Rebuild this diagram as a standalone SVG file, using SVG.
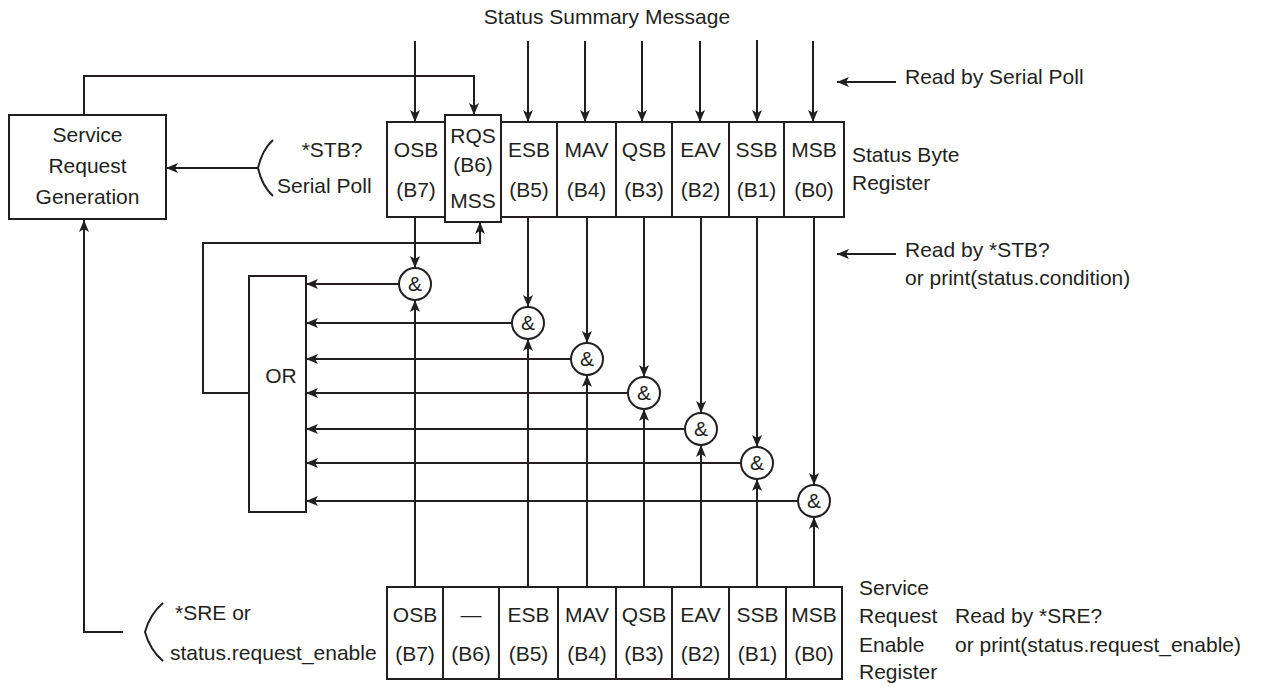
<svg xmlns="http://www.w3.org/2000/svg" width="1267" height="687" viewBox="0 0 1267 687">
<style>
  text{font-family:"Liberation Sans",Arial,sans-serif;font-size:21px;fill:#231f20}
  .m{text-anchor:middle}
  .box{fill:#fff;stroke:#231f20;stroke-width:2}
  .ln{fill:none;stroke:#231f20;stroke-width:2}
  .ar{fill:none;stroke:#231f20;stroke-width:2;marker-end:url(#ah)}
</style>
<defs>
  <marker id="ah" viewBox="0 0 12 10" refX="12" refY="5" markerWidth="12" markerHeight="10" markerUnits="userSpaceOnUse" orient="auto">
    <path d="M0,0 L12,5 L0,10 L3,5 z" fill="#231f20"/>
  </marker>
</defs>
<rect width="1267" height="687" fill="#fff"/>

<text class="m" x="607" y="24">Status Summary Message</text>

<g id="connectors">
  <!-- inputs from top -->
  <path class="ar" d="M415,41 V122"/>
  <path class="ar" d="M528,41 V122"/>
  <path class="ar" d="M585,41 V122"/>
  <path class="ar" d="M642,41 V122"/>
  <path class="ar" d="M700,41 V122"/>
  <path class="ar" d="M757,40 V122"/>
  <path class="ar" d="M813,41 V122"/>
  <!-- SRG to RQS -->
  <path class="ar" d="M84,115 V76 H474 V115"/>
  <!-- bracket STB -->
  <path class="ln" d="M273,140 Q262,150 258,168 Q262,186 273,196"/>
  <path class="ar" d="M258,168 H166"/>
  <!-- SRE into SRG -->
  <path class="ar" d="M123,632 H84 V220"/>
  <path class="ln" d="M163,603 Q150,614 145,632 Q150,650 163,661"/>
  <!-- feedback OR to MSS -->
  <path class="ar" d="M249,393 H203 V243 H480 V222"/>
  <!-- status byte outputs down to & -->
  <path class="ar" d="M415,217 V268"/>
  <path class="ar" d="M528,217 V307"/>
  <path class="ar" d="M587,217 V343"/>
  <path class="ar" d="M644,217 V377"/>
  <path class="ar" d="M701,217 V413"/>
  <path class="ar" d="M757,217 V447"/>
  <path class="ar" d="M814,217 V485"/>
  <!-- enable inputs up to & -->
  <path class="ar" d="M415,587 V300"/>
  <path class="ar" d="M528,587 V339"/>
  <path class="ar" d="M587,587 V375"/>
  <path class="ar" d="M644,587 V409"/>
  <path class="ar" d="M701,587 V445"/>
  <path class="ar" d="M757,587 V479"/>
  <path class="ar" d="M814,587 V517"/>
  <!-- & outputs to OR -->
  <path class="ar" d="M399,284 H306"/>
  <path class="ar" d="M512,323 H306"/>
  <path class="ar" d="M571,359 H306"/>
  <path class="ar" d="M628,393 H306"/>
  <path class="ar" d="M685,429 H306"/>
  <path class="ar" d="M741,463 H306"/>
  <path class="ar" d="M798,501 H306"/>
  <!-- read arrows -->
  <path class="ar" d="M896,82 H837"/>
  <path class="ar" d="M896,254 H837"/>
</g>

<g id="srg">
  <rect class="box" x="9" y="115" width="157" height="104"/>
  <text class="m" x="87.5" y="142">Service</text>
  <text class="m" x="87.5" y="173">Request</text>
  <text class="m" x="87.5" y="204">Generation</text>
</g>

<g id="stb-label">
  <text class="m" x="332" y="157">*STB?</text>
  <text x="277" y="193">Serial Poll</text>
</g>

<g id="status-byte-register">
  <rect class="box" x="387" y="122" width="457" height="95"/>
  <path class="ln" d="M445,122 V217 M557,122 V217 M616,122 V217 M672,122 V217 M729,122 V217 M784,122 V217"/>
  <rect class="box" x="445" y="115" width="56" height="107"/>
  <text class="m" x="416" y="157">OSB</text><text class="m" x="416" y="197">(B7)</text>
  <text class="m" x="473" y="143">RQS</text><text class="m" x="473" y="172">(B6)</text><text class="m" x="473" y="208">MSS</text>
  <text class="m" x="529" y="157">ESB</text><text class="m" x="529" y="197">(B5)</text>
  <text class="m" x="586.5" y="157">MAV</text><text class="m" x="586.5" y="197">(B4)</text>
  <text class="m" x="644" y="157">QSB</text><text class="m" x="644" y="197">(B3)</text>
  <text class="m" x="700.5" y="157">EAV</text><text class="m" x="700.5" y="197">(B2)</text>
  <text class="m" x="756.5" y="157">SSB</text><text class="m" x="756.5" y="197">(B1)</text>
  <text class="m" x="814" y="157">MSB</text><text class="m" x="814" y="197">(B0)</text>
  <text x="852" y="162">Status Byte</text>
  <text x="852" y="190">Register</text>
</g>

<g id="read-serial-poll"><text x="905" y="84">Read by Serial Poll</text></g>
<g id="read-stb">
  <text x="905" y="257">Read by *STB?</text>
  <text x="905" y="285">or print(status.condition)</text>
</g>

<g id="or-gate">
  <rect class="box" x="249" y="276" width="57" height="236"/>
  <text class="m" x="281" y="383">OR</text>
</g>

<g id="and-gates">
  <g id="and7"><circle class="box" cx="415" cy="284" r="16"/><text class="m" x="415" y="291">&amp;</text></g>
  <g id="and5"><circle class="box" cx="528" cy="323" r="16"/><text class="m" x="528" y="330">&amp;</text></g>
  <g id="and4"><circle class="box" cx="587" cy="359" r="16"/><text class="m" x="587" y="366">&amp;</text></g>
  <g id="and3"><circle class="box" cx="644" cy="393" r="16"/><text class="m" x="644" y="400">&amp;</text></g>
  <g id="and2"><circle class="box" cx="701" cy="429" r="16"/><text class="m" x="701" y="436">&amp;</text></g>
  <g id="and1"><circle class="box" cx="757" cy="463" r="16"/><text class="m" x="757" y="470">&amp;</text></g>
  <g id="and0"><circle class="box" cx="814" cy="501" r="16"/><text class="m" x="814" y="508">&amp;</text></g>
</g>

<g id="sre-label">
  <text x="175" y="620">*SRE or</text>
  <text x="170" y="660">status.request_enable</text>
</g>

<g id="service-request-enable-register">
  <rect class="box" x="387" y="587" width="455" height="92"/>
  <path class="ln" d="M443,587 V679 M499,587 V679 M558,587 V679 M616,587 V679 M672,587 V679 M729,587 V679 M786,587 V679"/>
  <text class="m" x="415" y="622">OSB</text><text class="m" x="415" y="661">(B7)</text>
  <text class="m" x="471" y="622">—</text><text class="m" x="471" y="661">(B6)</text>
  <text class="m" x="528.5" y="622">ESB</text><text class="m" x="528.5" y="661">(B5)</text>
  <text class="m" x="587" y="622">MAV</text><text class="m" x="587" y="661">(B4)</text>
  <text class="m" x="644" y="622">QSB</text><text class="m" x="644" y="661">(B3)</text>
  <text class="m" x="700.5" y="622">EAV</text><text class="m" x="700.5" y="661">(B2)</text>
  <text class="m" x="757.5" y="622">SSB</text><text class="m" x="757.5" y="661">(B1)</text>
  <text class="m" x="814" y="622">MSB</text><text class="m" x="814" y="661">(B0)</text>
  <text x="859" y="595">Service</text>
  <text x="859" y="623">Request</text>
  <text x="859" y="652">Enable</text>
  <text x="859" y="679">Register</text>
</g>

<g id="read-sre">
  <text x="955" y="623">Read by *SRE?</text>
  <text x="955" y="652">or print(status.request_enable)</text>
</g>
</svg>
